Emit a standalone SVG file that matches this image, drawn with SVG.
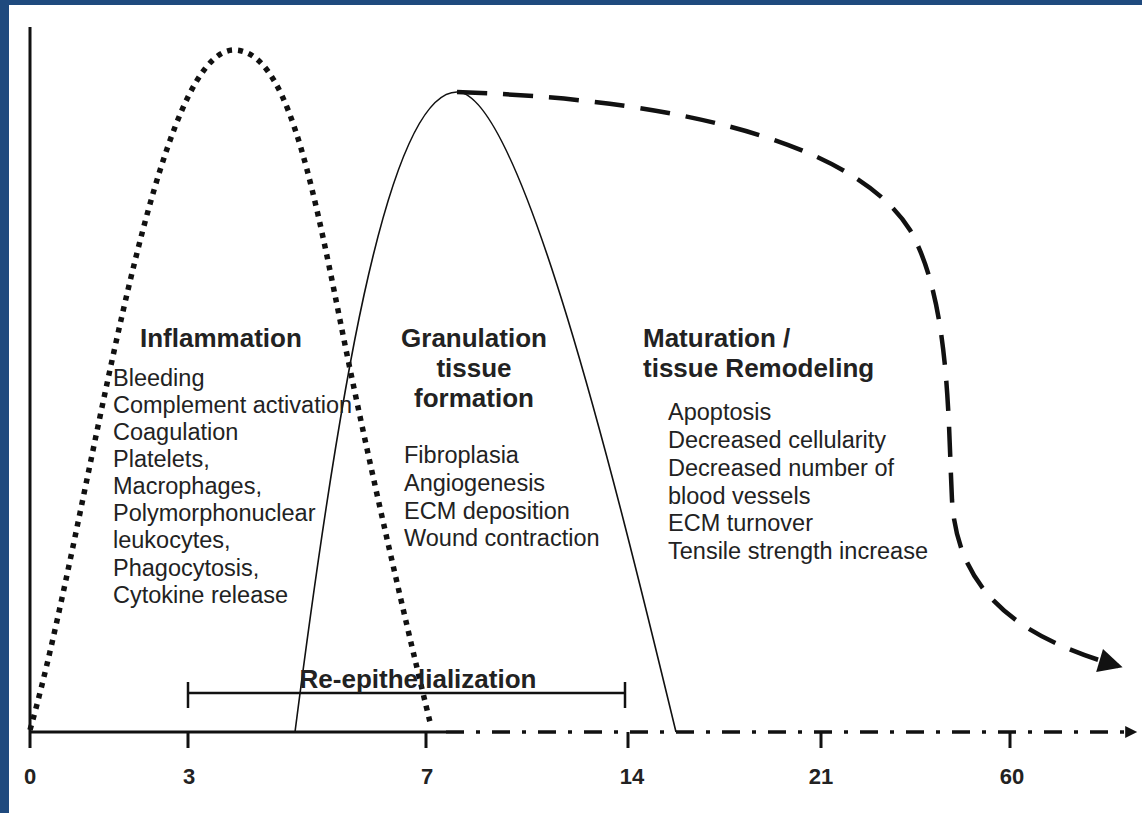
<svg xmlns="http://www.w3.org/2000/svg" width="1142" height="813" viewBox="0 0 1142 813">
<defs>
<style>
.t{font-family:"Liberation Sans",Arial,sans-serif;fill:#222;}
.h{font-size:26px;font-weight:bold;}
.l{font-size:23.5px;}
.n{font-size:22px;font-weight:bold;text-anchor:middle;}
.ax{stroke:#111;stroke-width:3;fill:none;}
</style>
<marker id="ah" viewBox="0 0 10 10" refX="8" refY="5" markerWidth="26" markerHeight="24" markerUnits="userSpaceOnUse" orient="auto">
<path d="M0,0 L10,5 L0,10 z" fill="#111"/>
</marker>
<marker id="ah2" viewBox="0 0 10 10" refX="9" refY="5" markerWidth="14" markerHeight="12" markerUnits="userSpaceOnUse" orient="auto">
<path d="M0,0 L10,5 L0,10 z" fill="#111"/>
</marker>
</defs>
<rect x="0" y="0" width="1142" height="813" fill="#1f4a7e"/>
<rect x="9" y="5" width="1133" height="808" fill="#fff"/>

<g id="axes">
<line class="ax" x1="30" y1="27" x2="30" y2="748"/>
<line class="ax" x1="30" y1="732" x2="446" y2="732"/>
<line x1="446" y1="732" x2="1136" y2="732" stroke="#111" stroke-width="3.5" stroke-dasharray="18 12 4 12" marker-end="url(#ah2)"/>
<g class="ax">
<line x1="188" y1="732" x2="188" y2="748"/>
<line x1="426" y1="732" x2="426" y2="748"/>
<line x1="628" y1="732" x2="628" y2="748"/>
<line x1="821" y1="732" x2="821" y2="748"/>
<line x1="1010" y1="732" x2="1010" y2="748"/>
</g>
<g class="t n">
<text x="30" y="784">0</text>
<text x="189" y="784">3</text>
<text x="427" y="784">7</text>
<text x="632" y="784">14</text>
<text x="821" y="784">21</text>
<text x="1012" y="784">60</text>
</g>
</g>

<g id="connectors">
<path id="inflammation-curve" d="M30,730 C90,520 150,50 234,50 C285,50 310,170 340,320 S410,640 430,722" fill="none" stroke="#111" stroke-width="5.5" stroke-dasharray="5 6"/>
<path id="granulation-curve" d="M295,732 C335,420 385,92 457,92 C520,92 615,480 676,732" fill="none" stroke="#111" stroke-width="1.6"/>
<path id="maturation-curve" d="M457,92 C700,100 860,150 910,230 C950,300 948,420 952,500 C958,600 1030,640 1118,666" fill="none" stroke="#111" stroke-width="4.5" stroke-dasharray="30 16" marker-end="url(#ah)"/>
<g id="reepi-bar" class="ax" style="stroke-width:2.5">
<line x1="188" y1="693" x2="625" y2="693"/>
<line x1="188" y1="682" x2="188" y2="708"/>
<line x1="625" y1="682" x2="625" y2="708"/>
</g>
</g>

<g id="inflammation" class="t">
<text class="h" x="140" y="347">Inflammation</text>
<text class="l" x="113" y="386">Bleeding</text>
<text class="l" x="113" y="413">Complement activation</text>
<text class="l" x="113" y="440">Coagulation</text>
<text class="l" x="113" y="467">Platelets,</text>
<text class="l" x="113" y="494">Macrophages,</text>
<text class="l" x="113" y="521">Polymorphonuclear</text>
<text class="l" x="113" y="548">leukocytes,</text>
<text class="l" x="113" y="576">Phagocytosis,</text>
<text class="l" x="113" y="603">Cytokine release</text>
</g>

<g id="granulation" class="t">
<text class="h" x="474" y="347" text-anchor="middle">Granulation</text>
<text class="h" x="474" y="377" text-anchor="middle">tissue</text>
<text class="h" x="474" y="407" text-anchor="middle">formation</text>
<text class="l" x="404" y="463">Fibroplasia</text>
<text class="l" x="404" y="491">Angiogenesis</text>
<text class="l" x="404" y="519">ECM deposition</text>
<text class="l" x="404" y="546">Wound contraction</text>
</g>

<g id="maturation" class="t">
<text class="h" x="643" y="347">Maturation /</text>
<text class="h" x="643" y="377">tissue Remodeling</text>
<text class="l" x="668" y="420">Apoptosis</text>
<text class="l" x="668" y="448">Decreased cellularity</text>
<text class="l" x="668" y="476">Decreased number of</text>
<text class="l" x="668" y="504">blood vessels</text>
<text class="l" x="668" y="531">ECM turnover</text>
<text class="l" x="668" y="559">Tensile strength increase</text>
</g>

<g id="reepithelialization" class="t">
<text class="h" x="418" y="688" text-anchor="middle">Re-epithelialization</text>
</g>
</svg>
